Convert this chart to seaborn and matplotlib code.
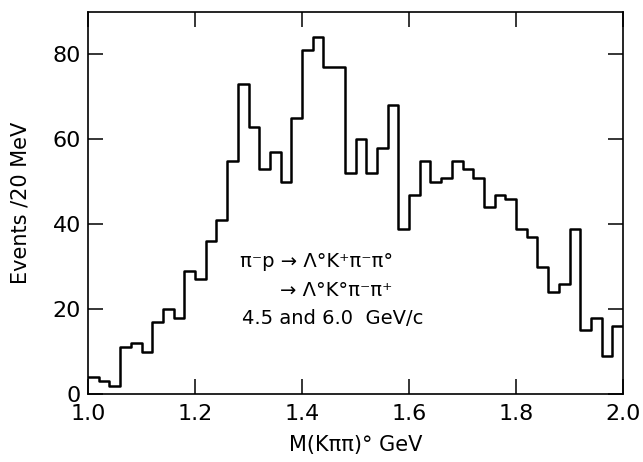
import matplotlib
matplotlib.use("Agg")
import matplotlib.pyplot as plt
import seaborn as sns
import numpy as np

# events per 20 MeV bin, M(K pi pi) from 1.00 to 2.00 GeV
bin_lo = 1.0
bin_hi = 2.0
counts = [4, 3, 2, 11, 12, 10, 17, 20, 18, 29,
          27, 36, 41, 55, 73, 63, 53, 57, 50, 65,
          81, 84, 77, 77, 52, 60, 52, 58, 68, 39,
          47, 55, 50, 51, 55, 53, 51, 44, 47, 46,
          39, 37, 30, 24, 26, 39, 15, 18, 9, 16]
xticks = [1.0, 1.2, 1.4, 1.6, 1.8, 2.0]
xticklabels = ["1.0", "1.2", "1.4", "1.6", "1.8", "2.0"]
yticks = [0, 20, 40, 60, 80]

nbins = len(counts)
centers = bin_lo + (np.arange(nbins) + 0.5) * (bin_hi - bin_lo) / nbins

sns.set_style("ticks")
plt.rcParams["font.family"] = ["DejaVu Sans"]
plt.rcParams["text.color"] = "black"
plt.rcParams["axes.labelcolor"] = "black"

fig = plt.figure(figsize=(6.43, 4.62), dpi=100)
ax = fig.add_axes([0.137, 0.147, 0.832, 0.827])

sns.histplot(x=centers, weights=counts, bins=nbins, binrange=(bin_lo, bin_hi),
             element="step", fill=False, color="black", linewidth=1.8, ax=ax)

ax.set_xlim(bin_lo, bin_hi)
ax.set_ylim(0, 90)
ax.set_xticks(xticks)
ax.set_xticklabels(xticklabels)
ax.set_yticks(yticks)
ax.tick_params(direction="in", length=11, width=1.1, top=True, right=True,
               labelsize=16, colors="black")
ax.tick_params(axis="x", pad=7)
ax.tick_params(axis="y", pad=5)
for sp in ax.spines.values():
    sp.set_visible(True)
    sp.set_linewidth(1.2)
    sp.set_color("black")

ax.set_xlabel("M(K\u03c0\u03c0)\u00b0 GeV", fontsize=15, labelpad=8)
ax.set_ylabel("Events /20 MeV", fontsize=15, labelpad=16)

ax.text(1.284, 31.2, "\u03c0\u207bp \u2192 \u039b\u00b0K\u207a\u03c0\u207b\u03c0\u00b0",
        fontsize=14, va="center", ha="left")
ax.text(1.359, 24.5, "\u2192 \u039b\u00b0K\u00b0\u03c0\u207b\u03c0\u207a",
        fontsize=14, va="center", ha="left")
ax.text(1.288, 17.9, "4.5 and 6.0  GeV/c", fontsize=14, va="center", ha="left")

plt.savefig("out.png", dpi=100)
